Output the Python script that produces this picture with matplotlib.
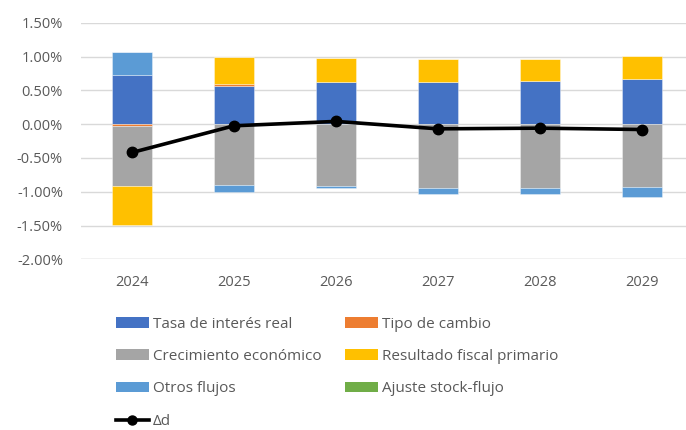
import numpy as np
import matplotlib
matplotlib.use("Agg")
import matplotlib.pyplot as plt
from matplotlib.patches import Patch
from matplotlib.lines import Line2D

# Debt dynamics decomposition (% of GDP, percentage points)
years = ["2024", "2025", "2026", "2027", "2028", "2029"]
tasa_interes = [0.73, 0.57, 0.63, 0.63, 0.64, 0.66]
tipo_cambio = [-0.03, 0.03, 0.00, 0.00, 0.00, 0.00]
crecimiento = [-0.88, -0.90, -0.92, -0.95, -0.95, -0.93]
resultado_fiscal = [-0.58, 0.40, 0.35, 0.34, 0.33, 0.35]
otros_flujos = [0.34, -0.11, -0.03, -0.09, -0.08, -0.15]
ajuste_stock = [0.00, 0.00, 0.00, 0.00, 0.00, 0.00]
delta_d = [-0.42, -0.025, 0.04, -0.07, -0.06, -0.08]
y_ticks = [1.5, 1.0, 0.5, 0.0, -0.5, -1.0, -1.5, -2.0]

series = [
    ("Tasa de interés real", tasa_interes, "#4472C4"),
    ("Tipo de cambio", tipo_cambio, "#ED7D31"),
    ("Crecimiento económico", crecimiento, "#A5A5A5"),
    ("Resultado fiscal primario", resultado_fiscal, "#FFC000"),
    ("Otros flujos", otros_flujos, "#5B9BD5"),
    ("Ajuste stock-flujo", ajuste_stock, "#70AD47"),
]

plt.rcParams["font.family"] = ["Open Sans", "DejaVu Sans"]
text_color = "#595959"
grid_color = "#D9D9D9"

W, H = 686, 430
fig = plt.figure(figsize=(W / 100, H / 100), dpi=100)
left, right, top, bottom = 81, 693, 22.7, 259.3
ax = fig.add_axes([left / W, 1 - bottom / H, (right - left) / W, (bottom - top) / H])

x = np.arange(len(years))
pos_base = np.zeros(len(years))
neg_base = np.zeros(len(years))
handles = {}
for name, vals, color in series:
    v = np.array(vals, dtype=float)
    base = np.where(v >= 0, pos_base, neg_base)
    ax.bar(x, v, width=0.4, bottom=base, color=color,
           edgecolor=(1, 1, 1, 0.5), linewidth=0.5, zorder=2)
    pos_base = pos_base + np.where(v > 0, v, 0)
    neg_base = neg_base + np.where(v < 0, v, 0)
    handles[name] = Patch(facecolor=color, edgecolor="none")

ax.plot(x, delta_d, color="black", linewidth=2.6, marker="o",
        markersize=7.5, zorder=4)

ax.set_xlim(-0.5, len(years) - 0.5)
ax.set_ylim(-2.0, 1.5)
ax.set_yticks(y_ticks)
ax.set_yticklabels([f"{t:.2f}%" for t in y_ticks])
ax.set_xticks(x)
ax.set_xticklabels(years)
ax.tick_params(axis="both", length=0, colors=text_color, labelsize=10.5)
ax.tick_params(axis="y", pad=13)
ax.tick_params(axis="x", pad=11)
ax.yaxis.grid(True, color=grid_color, linewidth=1.0, zorder=0)
ax.set_axisbelow(True)
for s in ax.spines.values():
    s.set_visible(False)
ax.axhline(-2.0, color=grid_color, linewidth=1.0, zorder=1)

leg_kw = dict(frameon=False, fontsize=11, handlelength=2.15, handleheight=0.7,
              handletextpad=0.25, labelspacing=1.12, borderpad=0, borderaxespad=0,
              labelcolor=text_color, loc="upper left")

col1 = ["Tasa de interés real", "Crecimiento económico", "Otros flujos"]
col2 = ["Tipo de cambio", "Resultado fiscal primario", "Ajuste stock-flujo"]
fig.legend([handles[n] for n in col1], col1,
           bbox_to_anchor=(116 / W, 1 - 317 / H), **leg_kw)
fig.legend([handles[n] for n in col2], col2,
           bbox_to_anchor=(345 / W, 1 - 317 / H), **leg_kw)
line_handle = Line2D([], [], color="black", linewidth=2.6, marker="o", markersize=6.5)
fig.legend([line_handle], ["Δd"], bbox_to_anchor=(116 / W, 1 - 414 / H), **leg_kw)

fig.savefig("out.png", dpi=100)
